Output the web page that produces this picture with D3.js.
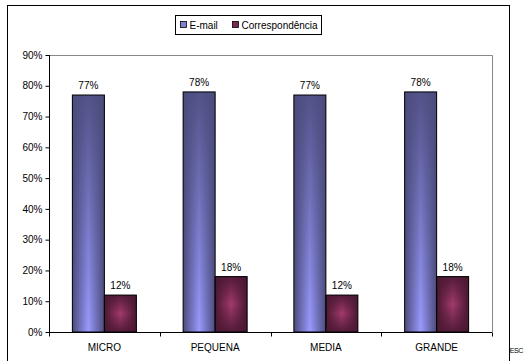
<!DOCTYPE html>
<html>
<head>
<meta charset="utf-8">
<style>
body { margin: 0; background: #fff; }
text { font-family: "Liberation Sans", Arial, sans-serif; fill: #000; }
</style>
</head>
<body>
<svg width="524" height="361"></svg>
<script src="https://d3js.org/d3.v7.min.js"></script>
<script>

var categories = ["MICRO", "PEQUENA", "MEDIA", "GRANDE"],
    seriesNames = ["E-mail", "Correspondência"],
    email = [77, 78, 77, 78],
    correspondencia = [12, 18, 12, 18],
    yTicks = [0, 10, 20, 30, 40, 50, 60, 70, 80, 90];

var svg = d3.select("svg"),
    margin = {top: 55, right: 32, bottom: 29, left: 49},
    width = +svg.attr("width") - margin.left - margin.right,
    height = +svg.attr("height") - margin.top - margin.bottom;

var defs = svg.append("defs");

// bar shading, roughly Excel's "from center" fill
function shade(id, edge, mid) {
  var h = defs.append("linearGradient").attr("id", id + "-h")
      .attr("x1", 0).attr("x2", 1).attr("y1", 0).attr("y2", 0);
  h.append("stop").attr("offset", "0%").attr("stop-color", edge);
  h.append("stop").attr("offset", "50%").attr("stop-color", mid);
  h.append("stop").attr("offset", "100%").attr("stop-color", edge);
}
shade("email", "#4b4b7c", "#9a9aff");
shade("corr", "#4a1832", "#a33a6c");

var vEmail = defs.append("linearGradient").attr("id", "email-v")
    .attr("x1", 0).attr("x2", 0).attr("y1", 0).attr("y2", 1);
vEmail.append("stop").attr("offset", "0%").attr("stop-color", "#4b4b7c").attr("stop-opacity", 0.9);
vEmail.append("stop").attr("offset", "100%").attr("stop-color", "#4b4b7c").attr("stop-opacity", 0);

var vCorr = defs.append("linearGradient").attr("id", "corr-v")
    .attr("x1", 0).attr("x2", 0).attr("y1", 0).attr("y2", 1);
vCorr.append("stop").attr("offset", "0%").attr("stop-color", "#4a1832").attr("stop-opacity", 0.9);
vCorr.append("stop").attr("offset", "50%").attr("stop-color", "#4a1832").attr("stop-opacity", 0);
vCorr.append("stop").attr("offset", "100%").attr("stop-color", "#4a1832").attr("stop-opacity", 0.9);

var x0 = d3.scaleBand().domain(categories).range([0, width]),
    x1 = d3.scaleBand().domain(seriesNames).range([0, 64]),
    y = d3.scaleLinear().domain([0, 90]).range([height, 0]);

// outer frame
svg.append("rect")
    .attr("x", 7.5).attr("y", 5.5).attr("width", 502).attr("height", 380)
    .attr("fill", "none").attr("stroke", "#000").attr("stroke-width", 1);

svg.append("text")
    .attr("x", 523).attr("y", 353)
    .attr("text-anchor", "end")
    .style("font-size", "7px")
    .style("letter-spacing", "-0.4px")
    .text("ESC");

var g = svg.append("g")
    .attr("transform", "translate(" + margin.left + "," + margin.top + ")");

// plot area border (top/right grey)
g.append("path")
    .attr("d", "M0.5,0.5H" + (width + 0.5) + "V" + height)
    .attr("fill", "none").attr("stroke", "#888");

var rows = categories.map(function(c, i) {
  return {cat: c, vals: [
    {s: seriesNames[0], v: email[i], id: "email"},
    {s: seriesNames[1], v: correspondencia[i], id: "corr"}
  ]};
});

var groups = g.selectAll(".grp").data(rows).enter().append("g")
    .attr("class", "grp")
    .attr("transform", function(d) {
      return "translate(" + (x0(d.cat) + x0.bandwidth() / 2 - 32) + ",0)";
    });

var bars = groups.selectAll(".bar").data(function(d) { return d.vals; }).enter();

bars.append("rect")
    .attr("x", function(d) { return x1(d.s); })
    .attr("y", function(d) { return y(d.v); })
    .attr("width", x1.bandwidth())
    .attr("height", function(d) { return height - y(d.v); })
    .attr("fill", function(d) { return "url(#" + d.id + "-h)"; });

bars.append("rect")
    .attr("x", function(d) { return x1(d.s); })
    .attr("y", function(d) { return y(d.v); })
    .attr("width", x1.bandwidth())
    .attr("height", function(d) { return height - y(d.v); })
    .attr("fill", function(d) { return "url(#" + d.id + "-v)"; })
    .attr("stroke", "#000").attr("stroke-width", 1);

bars.append("text")
    .attr("x", function(d) { return x1(d.s) + x1.bandwidth() / 2; })
    .attr("y", function(d) { return y(d.v) - 6; })
    .attr("text-anchor", "middle")
    .style("font-size", "10px")
    .text(function(d) { return d.v + "%"; });

// y axis
var yAxis = d3.axisLeft(y).tickValues(yTicks).tickSize(4).tickPadding(3)
    .tickFormat(function(d) { return d + "%"; });
var ya = g.append("g").attr("transform", "translate(0.5,0)").call(yAxis);
ya.selectAll("text").style("font-size", "10px").attr("fill", "#000");
ya.selectAll("line").attr("stroke", "#000");
ya.select(".domain").attr("d", "M0,0V" + height).attr("stroke", "#000");

// x axis
var xAxis = d3.axisBottom(x0).tickSize(0).tickPadding(11);
var xa = g.append("g").attr("transform", "translate(0," + (height + 0.5) + ")").call(xAxis);
xa.selectAll("text").style("font-size", "10px").attr("fill", "#000");
xa.select(".domain").attr("d", "M0,0H" + width).attr("stroke", "#000");
xa.selectAll(".sep").data(d3.range(categories.length + 1)).enter().append("line")
    .attr("class", "sep")
    .attr("x1", function(i) { return Math.round(i * x0.step()) + 0.5; })
    .attr("x2", function(i) { return Math.round(i * x0.step()) + 0.5; })
    .attr("y1", 0).attr("y2", 4)
    .attr("stroke", "#000");

// legend
var leg = svg.append("g").attr("transform", "translate(175.5,15.5)");
leg.append("rect").attr("width", 146).attr("height", 19)
    .attr("fill", "#fff").attr("stroke", "#000");
var items = [{n: seriesNames[0], c: "#8080d0", x: 5}, {n: seriesNames[1], c: "#7a2a50", x: 57}];
items.forEach(function(it) {
  leg.append("rect").attr("x", it.x).attr("y", 6).attr("width", 6).attr("height", 6)
      .attr("fill", it.c).attr("stroke", "#000").attr("stroke-width", 0.8);
  leg.append("text").attr("x", it.x + 9).attr("y", 13.5)
      .style("font-size", "10px").text(it.n);
});

</script>
</body>
</html>
